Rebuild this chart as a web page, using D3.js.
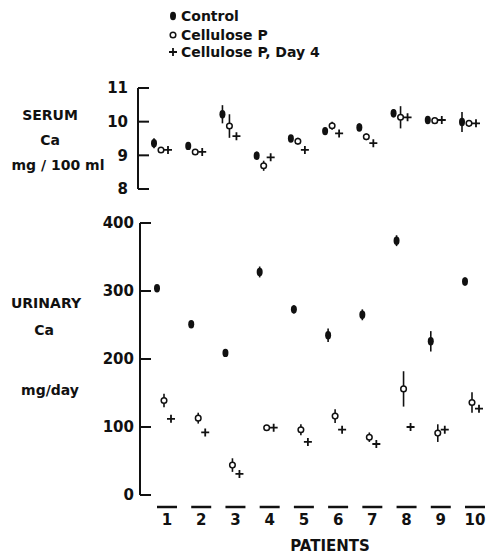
<!DOCTYPE html>
<html>
<head>
<meta charset="utf-8">
<script src="https://cdn.jsdelivr.net/npm/d3@7"></script>
<style>
  body { margin: 0; background: #fff; }
  text { font-family: "DejaVu Sans", sans-serif; font-weight: bold; fill: #111; }
</style>
</head>
<body>
<div id="chart"></div>
<script>
const width = 491;
const height = 554;

// Data
const patients = [1, 2, 3, 4, 5, 6, 7, 8, 9, 10];

// serum Ca, mg/100 ml
const serumControl = [9.36, 9.28, 10.22, 8.99, 9.50, 9.72, 9.83, 10.25, 10.05, 9.99];
const serumControlErr = [0.15, 0.1, 0.27, 0.12, 0.1, 0.1, 0.12, 0.12, 0.08, 0.3];
const serumCellulose = [9.16, 9.10, 9.87, 8.69, 9.42, 9.88, 9.55, 10.13, 10.03, 9.95];
const serumCelluloseErr = [0.05, 0.05, 0.35, 0.15, 0.1, 0.12, 0.1, 0.33, 0.08, 0.1];
const serumDay4 = [9.16, 9.10, 9.57, 8.94, 9.16, 9.65, 9.36, 10.13, 10.05, 9.95];

// urinary Ca, mg/day
const urineControl = [304, 251, 209, 328, 273, 235, 265, 374, 226, 314];
const urineControlErr = [5, 5, 5, 8, 6, 10, 8, 8, 15, 6];
const urineCellulose = [139, 113, 44, 99, 96, 116, 85, 156, 91, 136];
const urineCelluloseErr = [10, 8, 10, 4, 8, 10, 7, 26, 13, 15];
const urineDay4 = [112, 92, 31, 99, 78, 96, 75, 100, 96, 127];

const serumTicks = [8, 9, 10, 11];
const urineTicks = [0, 100, 200, 300, 400];

const svg = d3.select("#chart")
  .append("svg")
  .attr("width", width)
  .attr("height", height);

// patient positions (label centres)
const x = d3.scalePoint()
  .domain(patients)
  .range([167, 475]);

const ySerum = d3.scaleLinear().domain([8, 11]).range([189, 88]);
const yUrine = d3.scaleLinear().domain([0, 400]).range([495, 223]);

// bracket-style axis: vertical line plus short ticks to the right
function drawAxis(scale, ticks, axisX, labelX) {
  const g = svg.append("g");
  const r = scale.range();
  g.append("line")
    .attr("x1", axisX).attr("x2", axisX)
    .attr("y1", r[1]).attr("y2", r[0])
    .attr("stroke", "#111").attr("stroke-width", 2);
  g.selectAll(".tick")
    .data(ticks)
    .enter()
    .append("line")
    .attr("x1", axisX).attr("x2", axisX + 11)
    .attr("y1", d => scale(d)).attr("y2", d => scale(d))
    .attr("stroke", "#111").attr("stroke-width", 2);
  g.selectAll(".lab")
    .data(ticks)
    .enter()
    .append("text")
    .attr("x", labelX)
    .attr("y", d => scale(d))
    .attr("dy", "0.36em")
    .attr("text-anchor", "end")
    .style("font-size", "15px")
    .text(d => d);
}

drawAxis(ySerum, serumTicks, 138, 128);
drawAxis(yUrine, urineTicks, 140, 134);

// markers
function errBar(g, cx, y, v, e) {
  g.append("line")
    .attr("x1", cx).attr("x2", cx)
    .attr("y1", y(v - e)).attr("y2", y(v + e))
    .attr("stroke", "#111").attr("stroke-width", 1.6);
}

function filled(g, cx, cy) {
  g.append("ellipse")
    .attr("cx", cx).attr("cy", cy)
    .attr("rx", 3).attr("ry", 4.2)
    .attr("fill", "#111");
}

function open(g, cx, cy) {
  g.append("circle")
    .attr("cx", cx).attr("cy", cy)
    .attr("r", 2.8)
    .attr("fill", "#fff")
    .attr("stroke", "#111").attr("stroke-width", 1.5);
}

function plus(g, cx, cy) {
  g.append("path")
    .attr("d", `M${cx - 4},${cy}H${cx + 4}M${cx},${cy - 4}V${cy + 4}`)
    .attr("stroke", "#111").attr("stroke-width", 1.8)
    .attr("fill", "none");
}

function drawPanel(y, ctrl, ctrlErr, cell, cellErr, day4, shift) {
  const g = svg.append("g");
  patients.forEach((p, i) => {
    const c = x(p) + shift;
    errBar(g, c - 10, y, ctrl[i], ctrlErr[i]);
    filled(g, c - 10, y(ctrl[i]));
    errBar(g, c - 3, y, cell[i], cellErr[i]);
    open(g, c - 3, y(cell[i]));
    plus(g, c + 4, y(day4[i]));
  });
}

drawPanel(ySerum, serumControl, serumControlErr, serumCellulose, serumCelluloseErr, serumDay4, -3);
drawPanel(yUrine, urineControl, urineControlErr, urineCellulose, urineCelluloseErr, urineDay4, 0);

// patient underlines and numbers
svg.selectAll(".bar")
  .data(patients)
  .enter()
  .append("line")
  .attr("x1", d => x(d) - 10).attr("x2", d => x(d) + 10)
  .attr("y1", 507).attr("y2", 507)
  .attr("stroke", "#111").attr("stroke-width", 2.5);

svg.selectAll(".pnum")
  .data(patients)
  .enter()
  .append("text")
  .attr("x", d => x(d))
  .attr("y", 525)
  .attr("text-anchor", "middle")
  .style("font-size", "15px")
  .text(d => d);

svg.append("text")
  .attr("x", 330).attr("y", 551)
  .attr("text-anchor", "middle")
  .style("font-size", "15px")
  .text("PATIENTS");

// left-hand panel titles
const leftLabels = [
  { t: "SERUM", x: 50, y: 120 },
  { t: "Ca", x: 50, y: 145 },
  { t: "mg / 100 ml", x: 58, y: 170 },
  { t: "URINARY", x: 46, y: 308 },
  { t: "Ca", x: 44, y: 335 },
  { t: "mg/day", x: 50, y: 395 }
];

svg.selectAll(".left")
  .data(leftLabels)
  .enter()
  .append("text")
  .attr("x", d => d.x).attr("y", d => d.y)
  .attr("text-anchor", "middle")
  .style("font-size", "14px")
  .text(d => d.t);

// legend
const legend = svg.append("g");
filled(legend, 173, 16);
open(legend, 173, 35);
plus(legend, 173, 52);
[["Control", 16], ["Cellulose P", 35], ["Cellulose P, Day 4", 52]].forEach(d => {
  legend.append("text")
    .attr("x", 181).attr("y", d[1])
    .attr("dy", "0.36em")
    .style("font-size", "14px")
    .text(d[0]);
});
</script>
</body>
</html>
